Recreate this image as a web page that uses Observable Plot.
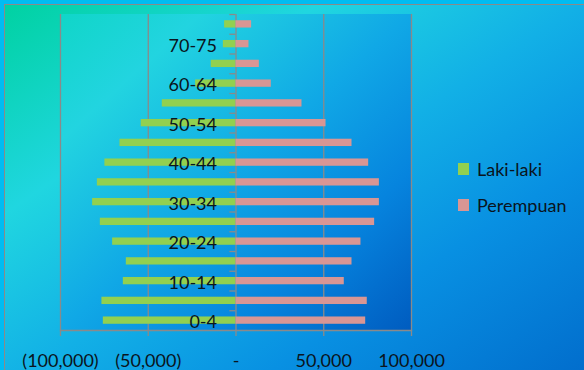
<!DOCTYPE html>
<html>
<head>
<meta charset="utf-8">
<script src="https://cdn.jsdelivr.net/npm/d3@7"></script>
<script src="https://cdn.jsdelivr.net/npm/@observablehq/plot@0.6"></script>
<style>
  html, body { margin: 0; padding: 0; }
  body { width: 584px; height: 370px; overflow: hidden; background: #00bcf2; font-family: Lato, "Open Sans", sans-serif; }
  #wrap { position: relative; width: 584px; height: 370px; }
  #frame { position: absolute; left: 4px; top: 4px; width: 600px; height: 400px; border: 1.5px solid #8a8a8a;
    background: linear-gradient(to bottom right, #00d2a2 0%, #20d6e0 26%, #12b0e6 48%, #0890e2 68%, #0066c8 100%); }
  #plotbg { position: absolute; left: 60px; top: 14px; width: 351px; height: 316px;
    background: linear-gradient(to bottom right, #10d6c8 0%, #22d4e0 20%, #10a8e6 50%, #0684de 75%, #005cc0 100%); }
  #chart { position: absolute; left: 0; top: 0; }
  .leg { position: absolute; left: 458px; font-size: 18px; color: #0a1420; display: flex; align-items: center; }
  .leg span.sw { width: 11px; height: 12px; display: inline-block; margin-right: 8px; }
</style>
</head>
<body>
<div id="wrap">
  <div id="frame"></div>
  <div id="plotbg"></div>
  <div id="chart"></div>
  <div class="leg" style="top:158px"><span class="sw" style="background:#92d050"></span>Laki-laki</div>
  <div class="leg" style="top:194px"><span class="sw" style="background:#d99694"></span>Perempuan</div>
</div>
<script>
const ages = ["0-4","5-9","10-14","15-19","20-24","25-29","30-34","35-39","40-44","45-49","50-54","55-59","60-64","65-69","70-75","75+"];
const lakiLaki = [75600, 76400, 64200, 62500, 70300, 77300, 81700, 79000, 74700, 66100, 54000, 42000, 23000, 14100, 7200, 6500];
const perempuan = [73900, 74800, 61700, 66100, 71200, 79000, 81700, 81700, 75600, 66100, 51300, 37600, 20100, 13300, 7400, 8900];
const yLabels = ["0-4","10-14","20-24","30-34","40-44","50-54","60-64","70-75"];
const xTicks = [-100000, -50000, 0, 50000, 100000];
const seriesNames = ["Laki-laki", "Perempuan"];
const colors = ["#92d050", "#d99694"];

const rows = [];
ages.forEach((a, i) => {
  rows.push({age: a, sex: seriesNames[0], value: -lakiLaki[i]});
  rows.push({age: a, sex: seriesNames[1], value: perempuan[i]});
});

const fmt = v => v === 0 ? "-" : (v < 0 ? "(" + d3.format(",")(-v) + ")" : d3.format(",")(v));
const gridColor = "#8a8a8a";
const plotH = 370 - 14 - 40;
const band = plotH / ages.length;

const chart = Plot.plot({
  width: 584,
  height: 370,
  marginLeft: 60,
  marginRight: 173,
  marginTop: 14,
  marginBottom: 40,
  style: {background: "transparent", fontFamily: "Lato, 'Open Sans', sans-serif", color: "#0a1420"},
  x: {domain: [-100000, 100000]},
  y: {type: "band", domain: ages.slice().reverse(), paddingInner: 0.63, paddingOuter: 0.315, round: false},
  color: {domain: seriesNames, range: colors},
  marks: [
    Plot.ruleX(xTicks, {stroke: gridColor, strokeWidth: 1.3, strokeOpacity: 1}),
    Plot.frame({anchor: "bottom", stroke: gridColor, strokeWidth: 1.3}),
    Plot.ruleY(ages, {y: d => d, x1: -3500, x2: 0, dy: -band / 2, stroke: gridColor, strokeWidth: 1.3}),
    Plot.barX(rows, {x: "value", y: "age", fill: "sex", fillOpacity: 1}),
    Plot.axisX({ticks: xTicks, tickFormat: fmt, tickSize: 6, tickPadding: 18, fontSize: 18, label: null, stroke: gridColor, strokeWidth: 1.3, strokeOpacity: 1, fill: "#0a1420"}),
    Plot.axisY({ticks: [], label: null}),
    Plot.text(yLabels, {x: () => 0, y: d => d, text: d => d, textAnchor: "end", dx: -19, dy: 2, fontSize: 18, fill: "#0a1420"})
  ]
});
document.getElementById("chart").appendChild(chart);
</script>
</body>
</html>
